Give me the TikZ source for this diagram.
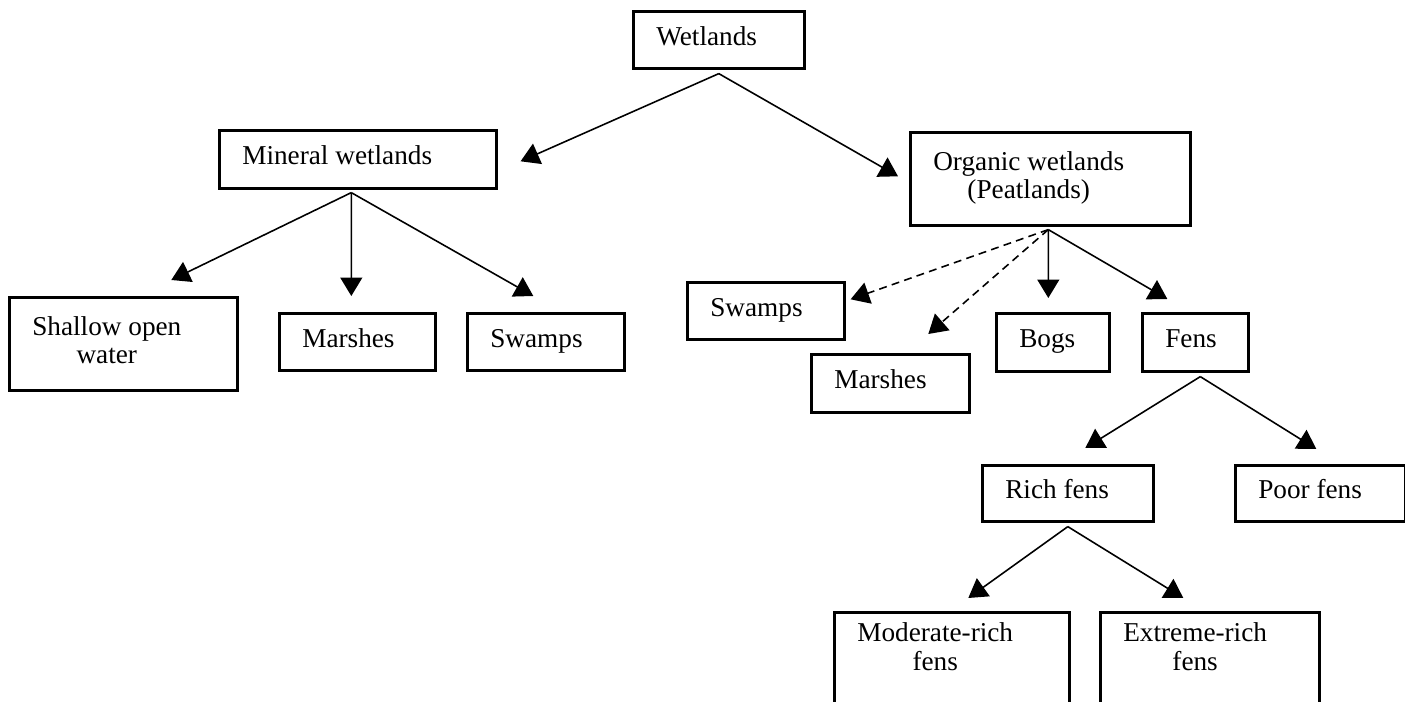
\documentclass[tikz,border=0pt]{standalone}
\usepackage{fontspec}
\setmainfont{Liberation Serif}
\usepackage{tikz}
\usetikzlibrary{arrows.meta}

\tikzset{
    box/.style={draw, line width=1.5pt, anchor=north west, align=flush left, inner xsep=0.46cm, inner ysep=0pt, execute at begin node=\strut},
}

\begin{document}
\begin{tikzpicture}[x=0.02cm, y=-0.02cm, line width=0.9pt, >={Triangle[length=0.37cm, width=0.44cm]}, font=\fontsize{15.5}{16}\selectfont]

    \useasboundingbox (0,0) rectangle (1405,702);

    \node[box, text width=2.5cm, minimum height=1.14cm] (wet) at (632,10) {Wetlands};
    \node[box, text width=4.62cm, minimum height=1.16cm] (min) at (218,129) {Mineral wetlands};
    \node[box, text width=4.68cm, minimum height=1.86cm] (org) at (909,131) {\begin{tabular}{@{}c@{}}Organic wetlands\\(Peatlands)\end{tabular}};

    \node[box, text width=3.64cm, minimum height=1.86cm] (sow) at (8,296) {\begin{tabular}{@{}c@{}}Shallow open\\water\end{tabular}};
    \node[box, text width=2.2cm, minimum height=1.14cm] (mmar) at (278,312) {Marshes};
    \node[box, text width=2.22cm, minimum height=1.14cm] (mswa) at (466,312) {Swamps};

    \node[box, text width=2.22cm, minimum height=1.14cm] (oswa) at (686,281) {Swamps};
    \node[box, text width=2.24cm, minimum height=1.16cm] (omar) at (810,353) {Marshes};
    \node[box, text width=1.34cm, minimum height=1.16cm] (bog) at (995,312) {Bogs};
    \node[box, text width=1.2cm, minimum height=1.16cm] (fen) at (1141,312) {Fens};

    \node[box, text width=2.5cm, minimum height=1.12cm] (rich) at (981,464) {Rich fens};
    \node[box, text width=2.48cm, minimum height=1.12cm] (poor) at (1234,464) {Poor fens};

    \node[box, text width=3.78cm, inner ysep=0.2cm, text depth=1.9cm] (mod) at (833,611) {\begin{tabular}{@{}c@{}}Moderate-rich\\fens\end{tabular}};
    \node[box, text width=3.46cm, inner ysep=0.2cm, text depth=1.9cm] (ext) at (1099,611) {\begin{tabular}{@{}c@{}}Extreme-rich\\fens\end{tabular}};

    \coordinate (minb) at ([xshift=-0.13cm, yshift=-0.06cm]min.south);
    \coordinate (orgb) at ([xshift=-0.04cm, yshift=-0.06cm]org.south);
    \coordinate (fenb) at ([xshift=0.1cm, yshift=-0.08cm]fen.south);
    \coordinate (richb) at ([yshift=-0.08cm]rich.south);

    \draw[->] ([yshift=-0.08cm]wet.south) -- ([xshift=0.46cm, yshift=-0.04cm]min.east);
    \draw[->] ([yshift=-0.08cm]wet.south) -- ([xshift=-0.22cm, yshift=0.05cm]org.west);

    \draw[->] (minb) -- ([xshift=0.96cm, yshift=0.32cm]sow.north);
    \draw[->] (minb) -- ([xshift=-0.12cm, yshift=0.32cm]mmar.north);
    \draw[->] (minb) -- ([xshift=-0.25cm, yshift=0.32cm]mswa.north);

    \draw[dash pattern=on 4.5pt off 3pt, ->] (orgb) -- ([xshift=0.1cm, yshift=0.23cm]oswa.east);
    \draw[dash pattern=on 4.5pt off 3pt, ->] (orgb) -- ([xshift=0.76cm, yshift=0.38cm]omar.north);
    \draw[->] (orgb) -- ([xshift=-0.09cm, yshift=0.28cm]bog.north);
    \draw[->] (orgb) -- ([xshift=-0.56cm, yshift=0.26cm]fen.north);

    \draw[->] (fenb) -- ([xshift=0.35cm, yshift=0.32cm]rich.north);
    \draw[->] (fenb) -- ([xshift=-0.08cm, yshift=0.3cm]poor.north);

    \draw[->] (richb) -- ([xshift=0.33cm, yshift=0.26cm]mod.north);
    \draw[->] (richb) -- ([xshift=-0.53cm, yshift=0.26cm]ext.north);

\end{tikzpicture}
\end{document}
